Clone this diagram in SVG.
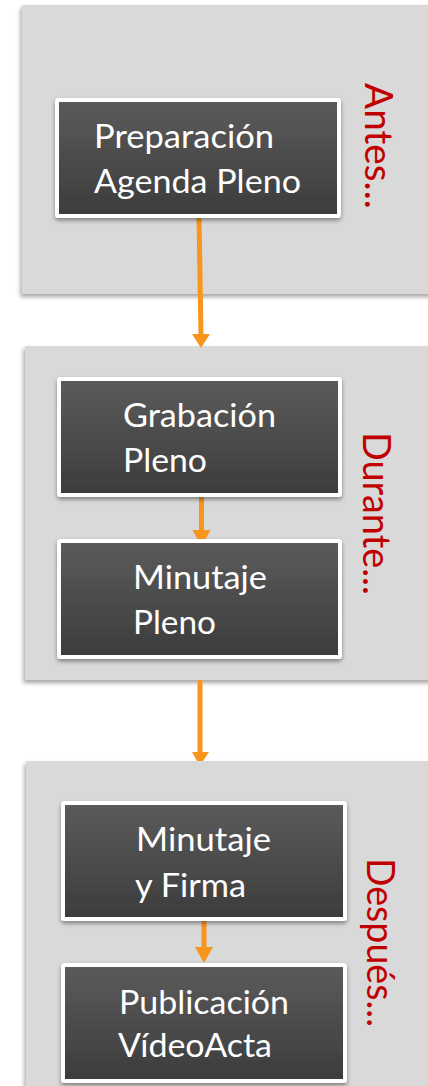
<svg xmlns="http://www.w3.org/2000/svg" width="428" height="1086" viewBox="0 0 428 1086">
  <defs>
    <linearGradient id="nodeGrad" x1="0" y1="0" x2="0" y2="1">
      <stop offset="0" stop-color="#5b5b5b"/>
      <stop offset="1" stop-color="#3c3c3c"/>
    </linearGradient>
    <filter id="panelShadow" x="-10%" y="-10%" width="120%" height="120%">
      <feDropShadow dx="-1.5" dy="3" stdDeviation="2" flood-color="#000" flood-opacity="0.35"/>
    </filter>
    <filter id="nodeShadow" x="-10%" y="-10%" width="120%" height="125%">
      <feDropShadow dx="0" dy="2.5" stdDeviation="2" flood-color="#000" flood-opacity="0.4"/>
    </filter>
    <style>
      .panel { fill: #d9d9d9; filter: url(#panelShadow); }
      .node { fill: url(#nodeGrad); stroke: #ffffff; stroke-width: 4; filter: url(#nodeShadow); }
      .nt { font-family: Lato, "Open Sans", sans-serif; font-size: 33px; fill: #ffffff; }
      .phase { font-family: Lato, "Open Sans", sans-serif; font-size: 38px; fill: #c00000; }
      .conn { stroke: #f8951d; stroke-width: 5; fill: none; }
      .head { fill: #f8951d; }
    </style>
  </defs>

  <g id="panel-antes">
    <rect class="panel" x="22" y="5" width="420" height="289"/>
    <text class="phase" transform="translate(365,83) rotate(90)" textLength="126" lengthAdjust="spacingAndGlyphs">Antes...</text>
  </g>
  <g id="panel-durante">
    <rect class="panel" x="25" y="346" width="420" height="334"/>
    <text class="phase" transform="translate(363,432) rotate(90)" textLength="163" lengthAdjust="spacingAndGlyphs">Durante...</text>
  </g>
  <g id="panel-despues">
    <rect class="panel" x="26" y="761" width="420" height="340"/>
    <text class="phase" transform="translate(367,858) rotate(90)" textLength="169" lengthAdjust="spacingAndGlyphs">Después...</text>
  </g>

  <g id="connectors">
    <line class="conn" x1="199" y1="216" x2="201" y2="336"/>
    <polygon class="head" points="192,334 210,334 201,348"/>
    <line class="conn" x1="201.5" y1="495" x2="201.5" y2="532"/>
    <polygon class="head" points="192.5,530 210.5,530 201.5,547"/>
    <line class="conn" x1="200" y1="680" x2="200" y2="754"/>
    <polygon class="head" points="192,752 209,752 203,761 197,761"/>
    <line class="conn" x1="204" y1="919" x2="204" y2="949"/>
    <polygon class="head" points="195,947 213,947 204,963"/>
  </g>

  <g id="node-preparacion">
    <rect class="node" x="57" y="100" width="282" height="116" rx="1.5"/>
    <text class="nt" x="94" y="148" textLength="180" lengthAdjust="spacingAndGlyphs">Preparación</text>
    <text class="nt" x="94" y="193" textLength="207" lengthAdjust="spacingAndGlyphs">Agenda Pleno</text>
  </g>
  <g id="node-grabacion">
    <rect class="node" x="59" y="379" width="281" height="116" rx="1.5"/>
    <text class="nt" x="123" y="427" textLength="153" lengthAdjust="spacingAndGlyphs">Grabación</text>
    <text class="nt" x="123" y="472" textLength="84" lengthAdjust="spacingAndGlyphs">Pleno</text>
  </g>
  <g id="node-minutaje-pleno">
    <rect class="node" x="59" y="541" width="281" height="116" rx="1.5"/>
    <text class="nt" x="133" y="589" textLength="134" lengthAdjust="spacingAndGlyphs">Minutaje</text>
    <text class="nt" x="133" y="634" textLength="83" lengthAdjust="spacingAndGlyphs">Pleno</text>
  </g>
  <g id="node-minutaje-firma">
    <rect class="node" x="63" y="803" width="282" height="116" rx="1.5"/>
    <text class="nt" x="136" y="851" textLength="135" lengthAdjust="spacingAndGlyphs">Minutaje</text>
    <text class="nt" x="135" y="897" textLength="111" lengthAdjust="spacingAndGlyphs">y Firma</text>
  </g>
  <g id="node-publicacion">
    <rect class="node" x="63" y="965" width="282" height="116" rx="1.5"/>
    <text class="nt" x="119" y="1014" textLength="170" lengthAdjust="spacingAndGlyphs">Publicación</text>
    <text class="nt" x="118" y="1057" textLength="154" lengthAdjust="spacingAndGlyphs">VídeoActa</text>
  </g>
</svg>
